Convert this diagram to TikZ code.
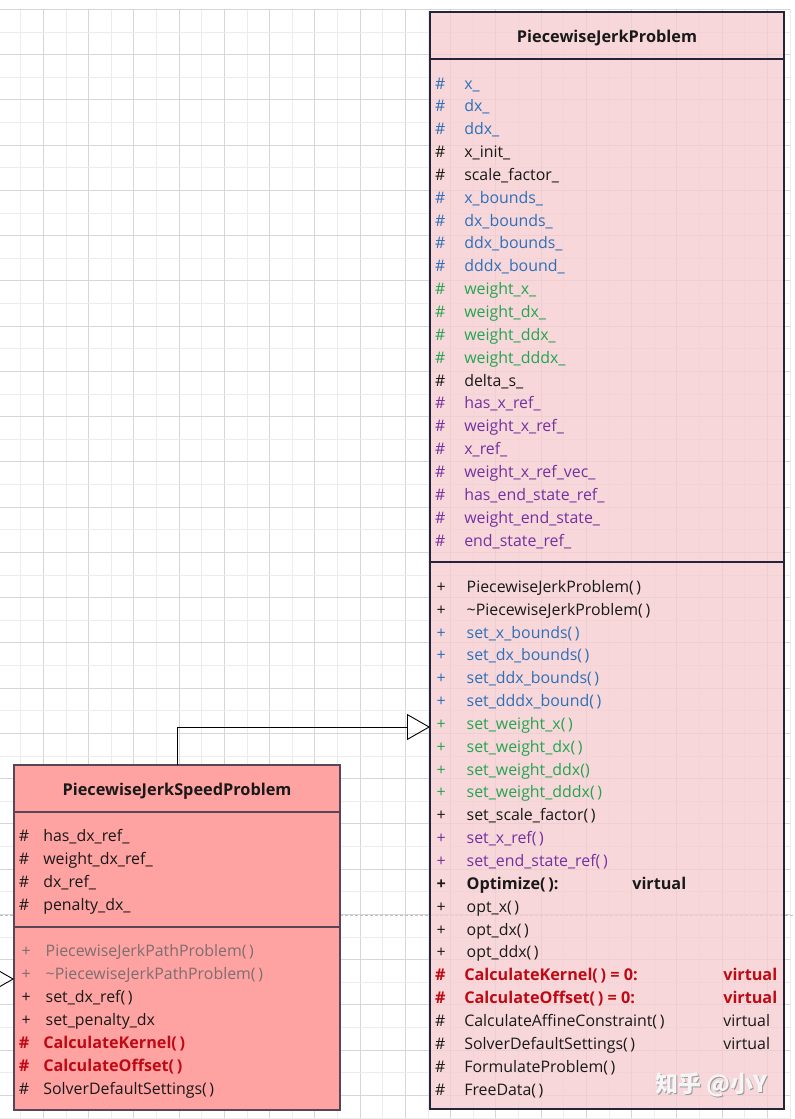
\documentclass[tikz,border=0pt]{standalone}
\usepackage{fontspec}
\setmainfont{Open Sans}
\newfontfamily\cjk{Noto Sans CJK SC}
\usetikzlibrary{arrows.meta}
\definecolor{ink}{RGB}{25,25,25}
\definecolor{cblue}{RGB}{46,112,184}
\definecolor{cgreen}{RGB}{35,165,80}
\definecolor{cpurple}{RGB}{115,50,160}
\definecolor{cred}{RGB}{190,10,20}
\definecolor{cgray}{RGB}{125,110,112}
\definecolor{gmaj}{RGB}{214,214,214}
\definecolor{gmin}{RGB}{236,236,236}
\definecolor{rfill}{RGB}{246,205,208}
\definecolor{lfill}{RGB}{255,162,162}
\definecolor{rline}{RGB}{38,36,58}
\definecolor{lline}{RGB}{88,70,88}
\tikzset{
  txt/.style={anchor=base west, inner sep=0pt, outer sep=0pt, font=\fontsize{15.9}{18}\selectfont, text=ink},
  boldtxt/.style={font=\fontsize{16.2}{18}\selectfont\bfseries},
  title/.style={anchor=base, inner sep=0pt, font=\fontsize{16.3}{18}\selectfont\bfseries, text=ink},
  inh/.style={draw=black, line width=0.9pt, -{Triangle[open, length=23pt, width=26pt, line width=0.9pt]}},
}
% #1 extra style, #2 name, #3 x symbol, #4 x text, #5 baseline, #6 colour, #7 symbol, #8 text
\newcommand\mrow[8][]{%
  \node[txt, text=#6, #1] (#2s) at (#3,#5) {#7};
  \node[txt, text=#6, #1] (#2) at (#4,#5) {#8};}
\newcommand\ap{(\thinspace)}
\begin{document}
\begin{tikzpicture}[x=1pt, y=-1pt]
\path[use as bounding box, clip] (0,0) rectangle (795,1119);
\fill[white] (0,0) rectangle (795,1119);
% grid
\foreach \k in {1,...,35} {
  \pgfmathsetmacro\xx{-1.95+22.625*\k}
  \ifodd\k \draw[gmin, line width=0.7pt] (\xx,9.3) -- (\xx,1119);
  \else \draw[gmaj, line width=0.8pt] (\xx,9.3) -- (\xx,1119); \fi
}
\foreach \k in {0,...,49} {
  \pgfmathsetmacro\yy{9.3+22.625*\k}
  \ifodd\k \draw[gmin, line width=0.7pt] (0,\yy) -- (790,\yy);
  \else \draw[gmaj, line width=0.8pt] (0,\yy) -- (790,\yy); \fi
}
\draw[gray!50, line width=0.7pt, dash pattern=on 3pt off 2pt] (0,915) -- (795,915);
% boxes
\node[draw=rline, line width=1.4pt, fill=rfill, fill opacity=0.78, draw opacity=1, anchor=north west,
      minimum width=354pt, minimum height=1097pt, inner sep=0pt, outer sep=0pt] (rbox) at (430,12) {};
\node[draw=lline, line width=1.2pt, fill=lfill, anchor=north west,
      minimum width=326pt, minimum height=345pt, inner sep=0pt, outer sep=0pt] (lbox) at (14,765) {};
\coordinate (d1) at (0,59);
\coordinate (d2) at (0,562);
\coordinate (d3) at (0,812);
\coordinate (d4) at (0,927);
\draw[rline, line width=1.4pt] (rbox.west |- d1) -- (rbox.east |- d1);
\draw[rline, line width=1.4pt] (rbox.west |- d2) -- (rbox.east |- d2);
\draw[lline, line width=1.4pt] (lbox.west |- d3) -- (lbox.east |- d3);
\draw[lline, line width=1.4pt] (lbox.west |- d4) -- (lbox.east |- d4);
% connectors
\coordinate (j) at (300,727);
\draw[inh] (lbox.north) |- (rbox.west |- j);
\coordinate (lin) at (-40,979);
\draw[inh] (lin) -- (lbox.west |- lin);
% right box title
\node[title] (rtitle) at (607,42.3) {PiecewiseJerkProblem};
% right box attributes
\mrow{a0}{435}{464.3}{89.0}{cblue}{\#}{x\_}
\mrow{a1}{435}{464.3}{111.85}{cblue}{\#}{dx\_}
\mrow{a2}{435}{464.3}{134.7}{cblue}{\#}{ddx\_}
\mrow{a3}{435}{464.3}{157.55}{ink}{\#}{x\_init\_}
\mrow{a4}{435}{464.3}{180.4}{ink}{\#}{scale\_factor\_}
\mrow{a5}{435}{464.3}{203.25}{cblue}{\#}{x\_bounds\_}
\mrow{a6}{435}{464.3}{226.1}{cblue}{\#}{dx\_bounds\_}
\mrow{a7}{435}{464.3}{248.95}{cblue}{\#}{ddx\_bounds\_}
\mrow{a8}{435}{464.3}{271.8}{cblue}{\#}{dddx\_bound\_}
\mrow{a9}{435}{464.3}{294.65}{cgreen}{\#}{weight\_x\_}
\mrow{a10}{435}{464.3}{317.5}{cgreen}{\#}{weight\_dx\_}
\mrow{a11}{435}{464.3}{340.35}{cgreen}{\#}{weight\_ddx\_}
\mrow{a12}{435}{464.3}{363.2}{cgreen}{\#}{weight\_dddx\_}
\mrow{a13}{435}{464.3}{386.05}{ink}{\#}{delta\_s\_}
\mrow{a14}{435}{464.3}{408.9}{cpurple}{\#}{has\_x\_ref\_}
\mrow{a15}{435}{464.3}{431.75}{cpurple}{\#}{weight\_x\_ref\_}
\mrow{a16}{435}{464.3}{454.6}{cpurple}{\#}{x\_ref\_}
\mrow{a17}{435}{464.3}{477.45}{cpurple}{\#}{weight\_x\_ref\_vec\_}
\mrow{a18}{435}{464.3}{500.3}{cpurple}{\#}{has\_end\_state\_ref\_}
\mrow{a19}{435}{464.3}{523.15}{cpurple}{\#}{weight\_end\_state\_}
\mrow{a20}{435}{464.3}{546.0}{cpurple}{\#}{end\_state\_ref\_}
% right box methods
\mrow{m0}{436.7}{466.7}{592.3}{ink}{+}{PiecewiseJerkProblem\ap}
\mrow{m1}{436.7}{466.7}{615.15}{ink}{+}{\textasciitilde PiecewiseJerkProblem\ap}
\mrow{m2}{436.7}{466.7}{638.0}{cblue}{+}{set\_x\_bounds\ap}
\mrow{m3}{436.7}{466.7}{660.85}{cblue}{+}{set\_dx\_bounds\ap}
\mrow{m4}{436.7}{466.7}{683.7}{cblue}{+}{set\_ddx\_bounds\ap}
\mrow{m5}{436.7}{466.7}{706.55}{cblue}{+}{set\_dddx\_bound\ap}
\mrow{m6}{436.7}{466.7}{729.4}{cgreen}{+}{set\_weight\_x\ap}
\mrow{m7}{436.7}{466.7}{752.25}{cgreen}{+}{set\_weight\_dx\ap}
\mrow{m8}{436.7}{466.7}{775.1}{cgreen}{+}{set\_weight\_ddx()}
\mrow{m9}{436.7}{466.7}{797.95}{cgreen}{+}{set\_weight\_dddx\ap}
\mrow{m10}{436.7}{466.7}{820.8}{ink}{+}{set\_scale\_factor\ap}
\mrow{m11}{436.7}{466.7}{843.65}{cpurple}{+}{set\_x\_ref\ap}
\mrow{m12}{436.7}{466.7}{866.5}{cpurple}{+}{set\_end\_state\_ref\ap}
\mrow[boldtxt]{m13}{436.7}{466.7}{889.35}{ink}{+}{Optimize\ap:}
\node[txt, boldtxt] (m13v) at (632.3,889.35) {virtual};
\mrow{m14}{436.7}{466.7}{912.2}{ink}{+}{opt\_x\ap}
\mrow{m15}{436.7}{466.7}{935.05}{ink}{+}{opt\_dx\ap}
\mrow{m16}{436.7}{466.7}{957.9}{ink}{+}{opt\_ddx\ap}
\mrow[boldtxt]{m17}{435}{464.3}{980.75}{cred}{\#}{CalculateKernel\ap{} = 0:}
\node[txt, boldtxt, text=cred] (m17v) at (723.3,980.75) {virtual};
\mrow[boldtxt]{m18}{435}{464.3}{1003.6}{cred}{\#}{CalculateOffset\ap{} = 0:}
\node[txt, boldtxt, text=cred] (m18v) at (723.3,1003.6) {virtual};
\mrow{m19}{435}{464.3}{1026.45}{ink}{\#}{CalculateAffineConstraint\ap}
\node[txt] (m19v) at (723.3,1026.45) {virtual};
\mrow{m20}{435}{464.3}{1049.3}{ink}{\#}{SolverDefaultSettings\ap}
\node[txt] (m20v) at (723.3,1049.3) {virtual};
\mrow{m21}{435}{464.3}{1072.15}{ink}{\#}{FormulateProblem\ap}
\mrow{m22}{435}{464.3}{1095.0}{ink}{\#}{FreeData\ap}
% left box
\node[title] (ltitle) at (177,795) {PiecewiseJerkSpeedProblem};
\mrow{b0}{19}{43.3}{841.7}{ink}{\#}{has\_dx\_ref\_}
\mrow{b1}{19}{43.3}{864.5}{ink}{\#}{weight\_dx\_ref\_}
\mrow{b2}{19}{43.3}{887.3}{ink}{\#}{dx\_ref\_}
\mrow{b3}{19}{43.3}{910.0}{ink}{\#}{penalty\_dx\_}
\mrow{n0}{21.7}{45.7}{956.7}{cgray}{+}{PiecewiseJerkPathProblem\ap}
\mrow{n1}{21.7}{45.7}{979.6}{cgray}{+}{\textasciitilde PiecewiseJerkPathProblem\ap}
\mrow{n2}{21.7}{45.7}{1002.5}{ink}{+}{set\_dx\_ref\ap}
\mrow{n3}{21.7}{45.7}{1025.4}{ink}{+}{set\_penalty\_dx}
\mrow[boldtxt]{n4}{19}{43.3}{1048.3}{cred}{\#}{CalculateKernel\ap}
\mrow[boldtxt]{n5}{19}{43.3}{1071.2}{cred}{\#}{CalculateOffset\ap}
\mrow{n6}{19}{43.3}{1094.3}{ink}{\#}{SolverDefaultSettings\ap}
% watermark
\node[anchor=base west, inner sep=0pt, text=gray!80, font=\cjk\bfseries\fontsize{23}{25}\selectfont] (wms) at (656.2,1093.2) {知乎 @小Y};
\node[anchor=base west, inner sep=0pt, text=white!92!gray, font=\cjk\bfseries\fontsize{23}{25}\selectfont] (wm) at (655,1092) {知乎 @小Y};
\end{tikzpicture}
\end{document}
